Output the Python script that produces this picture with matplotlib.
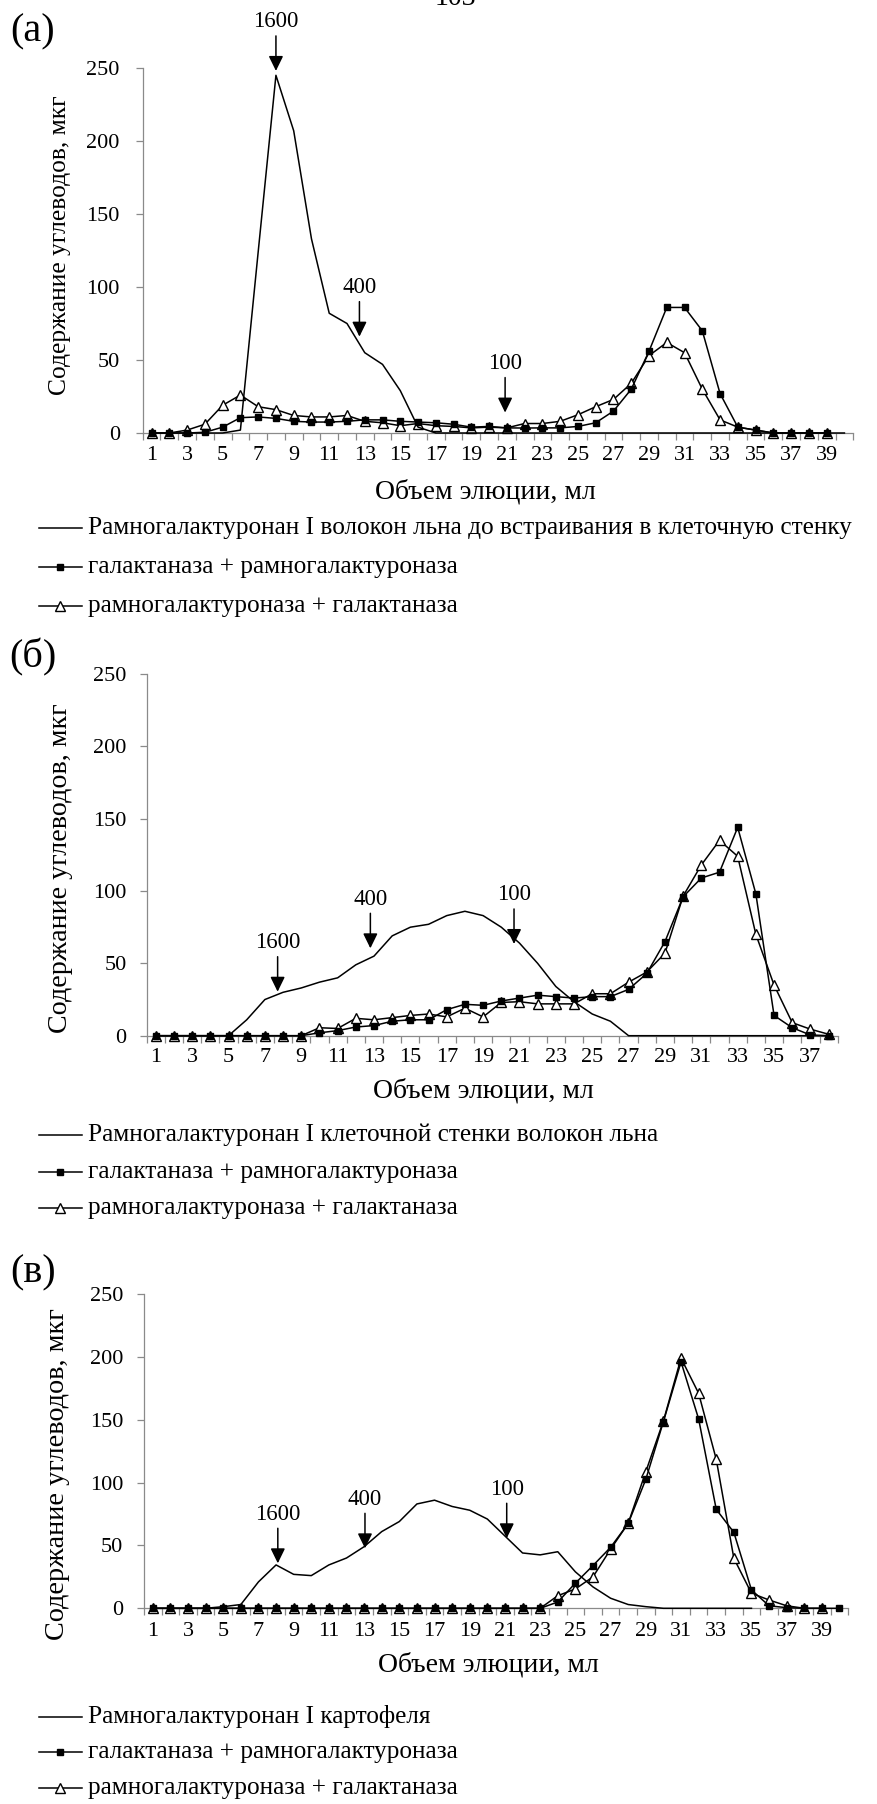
import matplotlib
matplotlib.use('Agg')
import matplotlib.pyplot as plt
from matplotlib.lines import Line2D
import numpy as np

plt.rcParams['font.family'] = ['Liberation Serif', 'DejaVu Serif']

W, H = 878, 1804

# carbohydrate content (ug) per 1 ml fraction
# (a) flax fibre RG-I before incorporation into the cell wall
rg_a = [0, 0, 0, 0, 0, 2, 124, 245, 207, 133, 82, 75, 55, 47, 29, 4, 0, 0, 0, 0,
        0, 0, 0, 0, 0, 0, 0, 0, 0, 0, 0, 0, 0, 0, 0, 0, 0, 0, 0, 0]
gal_rg_a = [0, 0, 0, 0.5, 4, 10.5, 11, 10, 8, 7.5, 7.5, 8, 9, 9, 8, 7.5, 7, 6, 4, 4.5,
            3.5, 3.4, 3.5, 3.5, 4.5, 7, 15, 30, 56, 86, 86, 70, 27, 4, 2, 0, 0, 0, 0]
rg_gal_a = [0, 0, 2, 6, 19, 26, 18, 16, 12, 11, 11, 12, 8, 7, 5, 6.5, 5, 4.5, 3.5, 4,
            3.5, 6.5, 6.5, 8, 12.5, 18, 23, 34, 53, 62, 55, 30, 9, 4, 2, 0, 0, 0, 0]

# (б) RG-I of the flax fibre cell wall
rg_b = [0, 0, 0, 0, 0, 11, 25, 30, 33, 37, 40, 49, 55, 69, 75, 77, 83, 86, 83, 75,
        64, 50, 34, 23.5, 15, 10, 0, 0, 0, 0, 0, 0, 0, 0, 0, 0, 0, 0]
gal_rg_b = [0, 0, 0, 0, 0, 0, 0, 0, 0, 2, 3.5, 6, 7, 10, 11, 11, 18, 21.7, 21, 24,
            26, 28, 27, 26, 27, 27, 32, 43, 65, 96, 109, 113, 144, 98, 14, 5.5, 0.5, 0]
rg_gal_b = [0, 0, 0, 0, 0, 0, 0, 0, 0, 5.5, 5, 12, 11, 12.5, 14, 15, 13, 19, 13, 23,
            23.5, 22, 22, 22, 29, 29, 37, 44, 57, 96.5, 118, 135, 124, 70, 35, 9, 4.5, 1]

# (в) potato RG-I
rg_c = [0, 0, 0, 0, 1.3, 3, 21, 34.5, 27, 26, 34.5, 40, 49, 61, 69, 83, 86, 81, 78, 71,
        57.5, 44, 42.5, 45, 29, 17, 8, 3, 1.3, 0, 0, 0, 0, 0, 0]
gal_rg_c = [0] * 23 + [5, 20, 34, 48.5, 67.5, 102.6, 148.5, 196, 150.6, 78.7, 60.4,
                       14.6, 2, 0.5, 0, 0, 0]
rg_gal_c = [0] * 23 + [10, 15.4, 25, 47, 67.6, 108.7, 149, 199, 171, 118.5, 39.8,
                       12, 6.6, 2, 0, 0]

# molecular mass markers (kDa): label, fraction, height of arrow tip
marker_labels = ['1600', '400', '100']
marker_pos_a = [8.0, 12.7, 20.9]
marker_tip_a = [248, 66, 14]
marker_pos_b = [7.7, 12.8, 20.7]
marker_tip_b = [30.4, 60.4, 63.4]
marker_pos_c = [8.1, 13.05, 21.1]
marker_tip_c = [35.8, 47.7, 55.7]

names_a = 'Рамногалактуронан I волокон льна до встраивания в клеточную стенку'
names_b = 'Рамногалактуронан I клеточной стенки волокон льна'
names_c = 'Рамногалактуронан I картофеля'
name_gal_rg = 'галактаназа + рамногалактуроназа'
name_rg_gal = 'рамногалактуроназа + галактаназа'

GREY = '#8a8a8a'
PT = 0.72  # points per pixel at 100 dpi

line_kw = dict(color='black', lw=1.1, ls='-', marker=None)
sq_kw = dict(color='black', lw=1.1, marker='s', ms=5, mfc='black', mec='black')
tr_kw = dict(color='black', lw=1.1, marker='^', ms=6.5, mfc='white', mec='black', mew=1)

fig = plt.figure(figsize=(W / 100, H / 100), dpi=100)


def fx(px):
    return px / W


def fy(py):
    return 1 - py / H


def panel(box, n_cat, rg, gal_rg, rg_gal, pos, tips, ypad, xpad):
    left, right, top, bottom = box
    ax = fig.add_axes([fx(left), fy(bottom), (right - left) / W, (bottom - top) / H])
    for vals, kw, z in ((rg_gal, tr_kw, 3), (gal_rg, sq_kw, 4), (rg, line_kw, 5)):
        x = np.arange(1, len(vals) + 1)
        ax.plot(x, vals, clip_on=False, zorder=z, **kw)

    ax.set_xlim(0.5, n_cat + 0.5)
    ax.set_ylim(0, 250)
    ax.set_yticks(np.arange(0, 251, 50))
    ax.set_xticks(np.arange(0.5, n_cat + 1, 1))
    ax.set_xticklabels([])
    ax.set_xticks(np.arange(1, n_cat + 1, 2), minor=True)
    ax.set_xticklabels([str(k) for k in range(1, n_cat + 1, 2)], minor=True)
    ax.tick_params(axis='x', which='major', length=5, width=0.9, color=GREY, direction='out')
    ax.tick_params(axis='x', which='minor', length=0, pad=xpad, labelsize=16)
    ax.tick_params(axis='y', length=5, width=0.9, color=GREY, direction='out',
                   pad=ypad, labelsize=16)
    for s in ('top', 'right'):
        ax.spines[s].set_visible(False)
    for s in ('left', 'bottom'):
        ax.spines[s].set_color(GREY)
        ax.spines[s].set_linewidth(0.9)

    for lab, k, v in zip(marker_labels, pos, tips):
        ax.annotate('', xy=(k, v), xytext=(0, 35 * PT), textcoords='offset points',
                    arrowprops=dict(arrowstyle='-|>,head_length=0.45,head_width=0.22',
                                    mutation_scale=20, color='black', lw=1.1,
                                    shrinkA=0, shrinkB=0), annotation_clip=False)
        ax.annotate(lab, xy=(k, v), xytext=(0, 49 * PT), textcoords='offset points',
                    ha='center', va='center', fontsize=16.5, annotation_clip=False)
    return ax


def legend_rows(rows, labels):
    styles = (line_kw, sq_kw, tr_kw)
    for y, lab, kw in zip(rows, labels, styles):
        fig.add_artist(Line2D([fx(39), fx(82)], [fy(y), fy(y)], transform=fig.transFigure,
                              color='black', lw=1.1))
        if kw.get('marker'):
            fig.add_artist(Line2D([fx(60.5)], [fy(y)], transform=fig.transFigure,
                                  ls='none', marker=kw['marker'], ms=kw['ms'],
                                  mfc=kw['mfc'], mec='black', mew=1))
        fig.text(fx(88), fy(y), lab, ha='left', va='center', fontsize=18.2)


ylabel = 'Содержание углеводов, мкг'
xlabel = 'Объем элюции, мл'

# (а)
panel((142.7, 853.3, 68, 433), 40, rg_a, gal_rg_a, rg_gal_a,
      marker_pos_a, marker_tip_a, ypad=11.5, xpad=9.7)
fig.text(fx(60), fy(245), ylabel, rotation=90, ha='center', va='center', fontsize=18.4)
fig.text(fx(485), fy(492), xlabel, ha='center', va='center', fontsize=20)
fig.text(fx(33), fy(32), '(а)', ha='center', va='center', fontsize=29)
legend_rows([528, 567, 606], [names_a, name_gal_rg, name_rg_gal])

# (б)
panel((146.7, 837.7, 674, 1035.7), 38, rg_b, gal_rg_b, rg_gal_b,
      marker_pos_b, marker_tip_b, ypad=9.4, xpad=9.2)
fig.text(fx(61), fy(868), ylabel, rotation=90, ha='center', va='center', fontsize=20.2)
fig.text(fx(483), fy(1091), xlabel, ha='center', va='center', fontsize=20)
fig.text(fx(33), fy(657), '(б)', ha='center', va='center', fontsize=29)
legend_rows([1135, 1172, 1208], [names_b, name_gal_rg, name_rg_gal])

# (в)
panel((144, 848.3, 1294, 1608.3), 40, rg_c, gal_rg_c, rg_gal_c,
      marker_pos_c, marker_tip_c, ypad=10, xpad=10.2)
fig.text(fx(58), fy(1474), ylabel, rotation=90, ha='center', va='center', fontsize=20.3)
fig.text(fx(488), fy(1665), xlabel, ha='center', va='center', fontsize=20)
fig.text(fx(33), fy(1273), '(в)', ha='center', va='center', fontsize=29)
legend_rows([1717, 1752, 1788], [names_c, name_gal_rg, name_rg_gal])

# page number, mostly above the top edge
fig.text(fx(455), fy(5), '103', ha='center', va='baseline', fontsize=20)

fig.savefig('out.png', dpi=100)
